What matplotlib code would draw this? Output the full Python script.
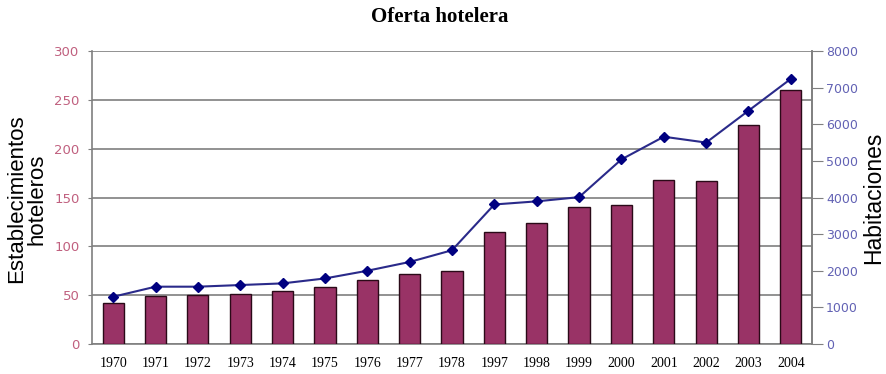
import matplotlib
matplotlib.use("Agg")
import matplotlib.pyplot as plt
import numpy as np

years = ["1970", "1971", "1972", "1973", "1974", "1975", "1976", "1977", "1978",
         "1997", "1998", "1999", "2000", "2001", "2002", "2003", "2004"]
establecimientos = [42, 49, 50, 51, 54, 58, 66, 72, 75,
                    115, 124, 140, 142, 168, 167, 224, 260]
habitaciones = [1290, 1565, 1565, 1610, 1655, 1790, 2000, 2240, 2560,
                3810, 3895, 4010, 5040, 5660, 5500, 6370, 7240]

fig = plt.figure(figsize=(8.86, 3.74), dpi=100)
ax = fig.add_axes([0.1038, 0.0802, 0.8127, 0.7834])
ax2 = ax.twinx()

x = np.arange(len(years))
ax.bar(x, establecimientos, width=0.5, color="#993366", edgecolor="#2a0a18",
       linewidth=1.0, zorder=3)
ax.set_xlim(-0.5, len(years) - 0.5)
ax.set_ylim(0, 300)
ax.set_yticks(np.arange(0, 301, 50))
ax.yaxis.grid(True, color="#7f7f7f", linewidth=1.2, zorder=0)
ax.set_axisbelow(True)
ax.set_xticks(x)
ax.set_xticklabels(years, fontfamily="Liberation Serif", fontsize=10)
ax.tick_params(axis="x", length=0, pad=9)
ax.tick_params(axis="y", length=3, color="#7f7f7f", labelcolor="#c0607f",
               labelsize=9.5, pad=6)
for side in ["left", "bottom", "right"]:
    ax.spines[side].set_color("#7f7f7f")
    ax.spines[side].set_linewidth(1.2)
ax.spines["top"].set_visible(False)

ax2.plot(x, habitaciones, color="#2a2a8a", linewidth=1.5, marker="D",
         markersize=5.5, markerfacecolor="#000080", markeredgecolor="#000080",
         zorder=4)
ax2.set_ylim(0, 8000)
ax2.set_yticks(np.arange(0, 8001, 1000))
ax2.tick_params(axis="y", length=8, color="#7f7f7f", labelcolor="#6262b4",
                labelsize=9, pad=2)
for side in ["left", "bottom", "top"]:
    ax2.spines[side].set_visible(False)
ax2.spines["right"].set_color("#7f7f7f")
ax2.spines["right"].set_linewidth(1.2)

fig.text(27 / 886, 0.468, "Establecimientos\nhoteleros", rotation=90,
         ha="center", va="center", multialignment="center",
         fontfamily="Liberation Sans", fontsize=16, linespacing=1.0)
fig.text(874 / 886, 0.47, "Habitaciones", rotation=90, ha="center",
         va="center", fontfamily="Liberation Sans", fontsize=16.5)

fig.suptitle("Oferta hotelera", fontfamily="Liberation Serif", fontweight="bold",
             fontsize=15, x=0.496, y=0.98)

fig.savefig("out.png", dpi=100)
